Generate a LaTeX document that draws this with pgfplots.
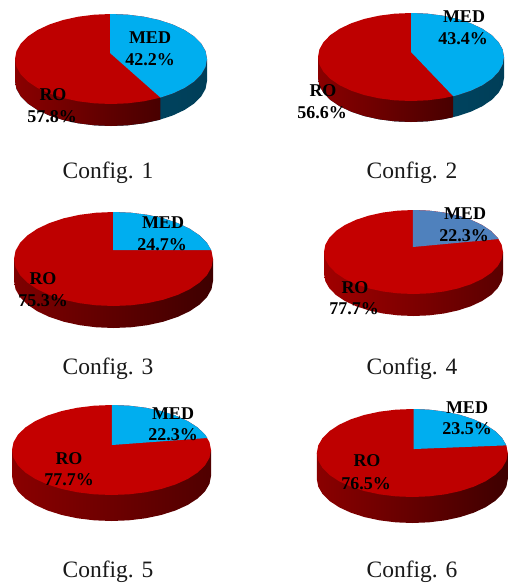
\documentclass[border=0pt]{standalone}
\usepackage{pgfplots}
\usepackage{pgfplotstable}
\usepackage{fontspec}
\setmainfont{Liberation Serif}
\pgfplotsset{compat=1.18}

\definecolor{roTop}{HTML}{BE0000}
\definecolor{roTopB}{HTML}{C40000}
\definecolor{medTop}{HTML}{00AEEF}
\definecolor{medTopB}{HTML}{4F81BD}
\definecolor{medSideL}{HTML}{00506F}
\definecolor{medSideR}{HTML}{003E58}
\definecolor{wallA}{HTML}{8A0000}
\definecolor{wallB}{HTML}{700000}
\definecolor{wallC}{HTML}{480000}
\definecolor{wallD}{HTML}{7E0000}
\definecolor{wallE}{HTML}{620000}
\definecolor{wallF}{HTML}{3E0000}
\definecolor{wallG}{HTML}{A00000}
\definecolor{wallH}{HTML}{6E0000}
\definecolor{wallI}{HTML}{5A0000}
\definecolor{wallJ}{HTML}{660000}
\definecolor{wallK}{HTML}{500000}

% Unit ellipse, clockwise from 12 o'clock (v grows towards the viewer)
\pgfplotstableread{
u v
0 -1
.1736 -.9848
.3420 -.9397
.5 -.8660
.6428 -.7660
.7660 -.6428
.8660 -.5
.9397 -.3420
.9848 -.1736
1 0
.9848 .1736
.9397 .3420
.8660 .5
.7660 .6428
.6428 .7660
.5 .8660
.3420 .9397
.1736 .9848
0 1
-.1736 .9848
-.3420 .9397
-.5 .8660
-.6428 .7660
-.7660 .6428
-.8660 .5
-.9397 .3420
-.9848 .1736
-1 0
-.9848 -.1736
-.9397 -.3420
-.8660 -.5
-.7660 -.6428
-.6428 -.7660
-.5 -.8660
-.3420 -.9397
-.1736 -.9848
}\topface

% Front wall of the cylinder; w=1 marks the lower rim
\pgfplotstableread{
u v w
1 0 0
1 0 1
.9848 .1736 1
.9397 .3420 1
.8660 .5 1
.7660 .6428 1
.6428 .7660 1
.5 .8660 1
.3420 .9397 1
.1736 .9848 1
0 1 1
-.1736 .9848 1
-.3420 .9397 1
-.5 .8660 1
-.6428 .7660 1
-.7660 .6428 1
-.8660 .5 1
-.9397 .3420 1
-.9848 .1736 1
-1 0 1
-1 0 0
}\frontwall

% RO part of the wall where the MED slice reaches the front
\pgfplotstableread{
u v w
.515 .857 0
.515 .857 1
.3420 .9397 1
.1736 .9848 1
0 1 1
-.1736 .9848 1
-.3420 .9397 1
-.5 .8660 1
-.6428 .7660 1
-.7660 .6428 1
-.8660 .5 1
-.9397 .3420 1
-.9848 .1736 1
-1 0 1
-1 0 0
}\wallOne
\pgfplotstableread{
u v w
.454 .891 0
.454 .891 1
.3420 .9397 1
.1736 .9848 1
0 1 1
-.1736 .9848 1
-.3420 .9397 1
-.5 .8660 1
-.6428 .7660 1
-.7660 .6428 1
-.8660 .5 1
-.9397 .3420 1
-.9848 .1736 1
-1 0 1
-1 0 0
}\wallTwo

% MED slices: apex, then the rim clockwise from 12 o'clock
\pgfplotstableread{
u v
-.01 -.133
-.01 -1
.1736 -.9848
.3420 -.9397
.5 -.8660
.6428 -.7660
.7660 -.6428
.8660 -.5
.9397 -.3420
.9848 -.1736
1 0
.9848 .1736
.9397 .3420
.8660 .5
.7660 .6428
.6428 .7660
.515 .857
}\medOne
\pgfplotstableread{
u v
0 -.114
0 -1
.1736 -.9848
.3420 -.9397
.5 -.8660
.6428 -.7660
.7660 -.6428
.8660 -.5
.9397 -.3420
.9848 -.1736
1 0
.9848 .1736
.9397 .3420
.8660 .5
.7660 .6428
.6428 .7660
.5 .8660
.454 .891
}\medTwo
\pgfplotstableread{
u v
-.005 -.19
-.005 -1
.1736 -.9848
.3420 -.9397
.5 -.8660
.6428 -.7660
.7660 -.6428
.8660 -.5
.9397 -.3420
.9816 -.1908
}\medThree
\pgfplotstableread{
u v
-.006 -.119
-.006 -1
.1736 -.9848
.3420 -.9397
.5 -.8660
.6428 -.7660
.7660 -.6428
.8660 -.5
.9397 -.3420
.9511 -.3090
}\medFour
\pgfplotstableread{
u v
.005 -.111
.005 -1
.1736 -.9848
.3420 -.9397
.5 -.8660
.6428 -.7660
.7660 -.6428
.8660 -.5
.9397 -.3420
.9636 -.2672
}\medFive
\pgfplotstableread{
u v
.015 -.09
.015 -1
.1736 -.9848
.3420 -.9397
.5 -.8660
.6428 -.7660
.7660 -.6428
.8660 -.5
.9397 -.3420
.9848 -.1736
}\medSix

% Wall piece: centre x, centre y, radius x, radius y, depth, table, plot style
\newcommand{\wall}[7]{%
  \addplot[draw=none,#7] table[x expr=#1+#3*\thisrow{u}, y expr=#2+#4*\thisrow{v}+#5*\thisrow{w}] {#6};}
% Flat piece on the upper face, same arguments without the depth
\newcommand{\face}[6]{%
  \addplot[draw=none,fill=#6] table[x expr=#1+#3*\thisrow{u}, y expr=#2+#4*\thisrow{v}] {#5};}
% Bold data label, positioned on its baseline
\newcommand{\lab}[3]{%
  \node[anchor=base,inner sep=0pt,font=\fontsize{18}{20}\selectfont\bfseries,text=black] at (axis cs:#1,#2) {#3};}
% Caption under a pie
\newcommand{\cfg}[3]{%
  \node[anchor=base,inner sep=0pt,font=\fontsize{23.5}{26}\selectfont,text=black!90] at (axis cs:#1,#2) {#3};}

\begin{document}
\begin{tikzpicture}
\begin{axis}[
  scale only axis, width=513pt, height=587pt,
  xmin=0, xmax=513, ymin=0, ymax=587, y dir=reverse,
  hide axis, clip=false, cycle list={{draw=none}}]
\path (axis cs:0,0) (axis cs:513,587);

% Config. 1
\wall{111}{59}{96}{45}{22}{\frontwall}{left color=medSideL,right color=medSideR}
\wall{111}{59}{96}{45}{22}{\wallOne}{left color=wallA,middle color=wallB,right color=wallC}
\face{111}{59}{96}{45}{\topface}{roTop}
\face{111}{59}{96}{45}{\medOne}{medTop}

% Config. 2
\wall{411}{57}{93}{44}{21}{\frontwall}{left color=medSideL,right color=medSideR}
\wall{411}{57}{93}{44}{21}{\wallTwo}{left color=wallA,middle color=wallB,right color=wallC}
\face{411}{57}{93}{44}{\topface}{roTop}
\face{411}{57}{93}{44}{\medTwo}{medTop}

% Config. 3
\wall{113.5}{259}{99.5}{47}{22}{\frontwall}{left color=wallD,middle color=wallE,right color=wallF}
\face{113.5}{259}{99.5}{47}{\topface}{roTop}
\face{113.5}{259}{99.5}{47}{\medThree}{medTop}

% Config. 4
\wall{413.5}{252}{89.5}{42}{22}{\frontwall}{left color=wallG,middle color=wallH,right color=wallI}
\face{413.5}{252}{89.5}{42}{\topface}{roTopB}
\face{413.5}{252}{89.5}{42}{\medFour}{medTopB}

% Config. 5
\wall{111.5}{450}{99.5}{45}{26}{\frontwall}{left color=wallA,middle color=wallJ,right color=wallK}
\face{111.5}{450}{99.5}{45}{\topface}{roTopB}
\face{111.5}{450}{99.5}{45}{\medFive}{medTop}

% Config. 6
\wall{412.3}{453}{95.5}{44}{26}{\frontwall}{left color=wallA,middle color=wallE,right color=wallF}
\face{412.3}{453}{95.5}{44}{\topface}{roTop}
\face{412.3}{453}{95.5}{44}{\medSix}{medTop}

% Data labels
\lab{150}{43}{MED}\lab{150}{65}{42.2\%}\lab{53}{100}{RO}\lab{52}{122}{57.8\%}
\lab{464}{22}{MED}\lab{463}{44}{43.4\%}\lab{323}{96}{RO}\lab{322}{118}{56.6\%}
\lab{163}{228}{MED}\lab{162}{250}{24.7\%}\lab{43}{284}{RO}\lab{43}{306}{75.3\%}
\lab{465}{219}{MED}\lab{464}{241}{22.3\%}\lab{355}{293}{RO}\lab{354}{314}{77.7\%}
\lab{173}{419}{MED}\lab{173}{440}{22.3\%}\lab{69}{464}{RO}\lab{69}{485}{77.7\%}
\lab{467}{413}{MED}\lab{467}{434}{23.5\%}\lab{367}{466}{RO}\lab{366}{489}{76.5\%}

% Captions
\cfg{108}{178}{Config. 1}
\cfg{412}{178}{Config. 2}
\cfg{108}{374}{Config. 3}
\cfg{412}{374}{Config. 4}
\cfg{108}{577}{Config. 5}
\cfg{412}{577}{Config. 6}
\end{axis}
\end{tikzpicture}
\end{document}
